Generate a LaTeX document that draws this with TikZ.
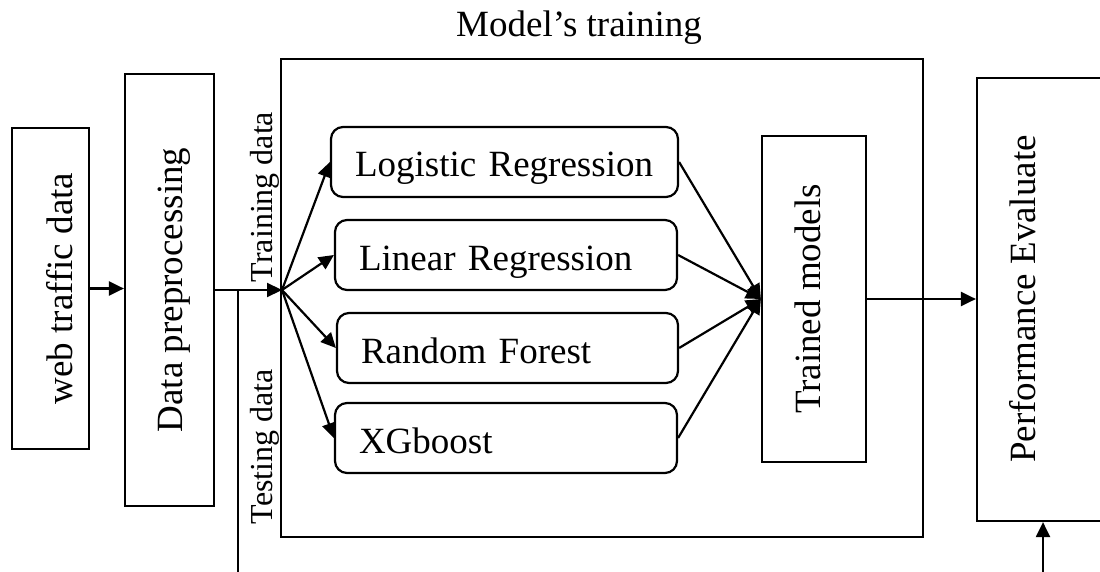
\documentclass[tikz,border=0pt]{standalone}
\usepackage{fontspec}
\setmainfont{Liberation Serif}
\usetikzlibrary{arrows.meta}
\begin{document}
\begin{tikzpicture}[x=1pt,y=-1pt,
  frame/.style={draw, line width=2.2pt, inner sep=0pt},
  model/.style={draw, line width=2.2pt, rounded corners=12pt, minimum height=70pt,
    text height=30pt, text depth=0pt, inner ysep=0pt, inner xsep=24pt, align=left,
    font=\fontsize{37}{44}\selectfont},
  vlabel/.style={rotate=90, anchor=base, inner sep=0pt, font=\fontsize{37}{44}\selectfont},
  slabel/.style={rotate=90, anchor=base, inner sep=0pt, font=\fontsize{32}{38}\selectfont},
  conn/.style={line width=2.2pt},
  arr/.style={conn, -{Triangle[length=15pt,width=14pt]}}
]
\useasboundingbox (0,0) rectangle (1100,572);
\clip (0,0) rectangle (1100,572);

% frames
\node[frame, minimum width=77pt, minimum height=321pt] (web) at (50.5,288.5) {};
\node[frame, minimum width=89pt, minimum height=432pt] (dp) at (169.5,290) {};
\node[frame, minimum width=642pt, minimum height=478pt] (mt) at (602,298) {};
\node[frame, minimum width=104pt, minimum height=326pt] (tm) at (814,299) {};
\node[frame, minimum width=133pt, minimum height=443pt] (perf) at (1043.5,299.5) {};

% labels
\node[vlabel] (webt) at (72,288.5) {web traffic data};
\node[vlabel] (dpt) at (182,290) {Data preprocessing};
\node[vlabel] (tmt) at (820,299) {Trained models};
\node[vlabel] (perft) at (1035,299) {Performance Evaluate};
\node[slabel] (train) at (272.5,197) {Training data};
\node[slabel] (test) at (272.5,446.5) {Testing data};
\node[anchor=base west, inner sep=0pt, font=\fontsize{37}{44}\selectfont] (title) at (456,37) {Model’s training};

% model boxes
\node[model, text width=299pt] (lr) at (504.5,162) {Logistic Regression};
\node[model, text width=294pt] (lin) at (506,255) {Linear Regression};
\node[model, text width=293pt] (rf) at (507.5,348) {Random Forest};
\node[model, text width=294pt] (xg) at (506,438) {XGboost};

% coordinates
\coordinate (split) at (282,290);
\coordinate (testend) at (238,572);
\coordinate (pbot) at (1043,572);

% connectors
\draw[arr] (web.east) -- (web.east -| dp.west);
\draw[arr] (dp.east) -- (split);
\draw[conn] (dp.east -| testend) -- (testend);
\foreach \m in {lr,lin,rf,xg} {
  \draw[arr] (split) -- (\m.west);
  \draw[arr] (\m.east) -- (tm.west);
}
\draw[arr] (tm.east) -- (tm.east -| perf.west);
\draw[arr] (pbot) -- (pbot |- perf.south);
\end{tikzpicture}
\end{document}
